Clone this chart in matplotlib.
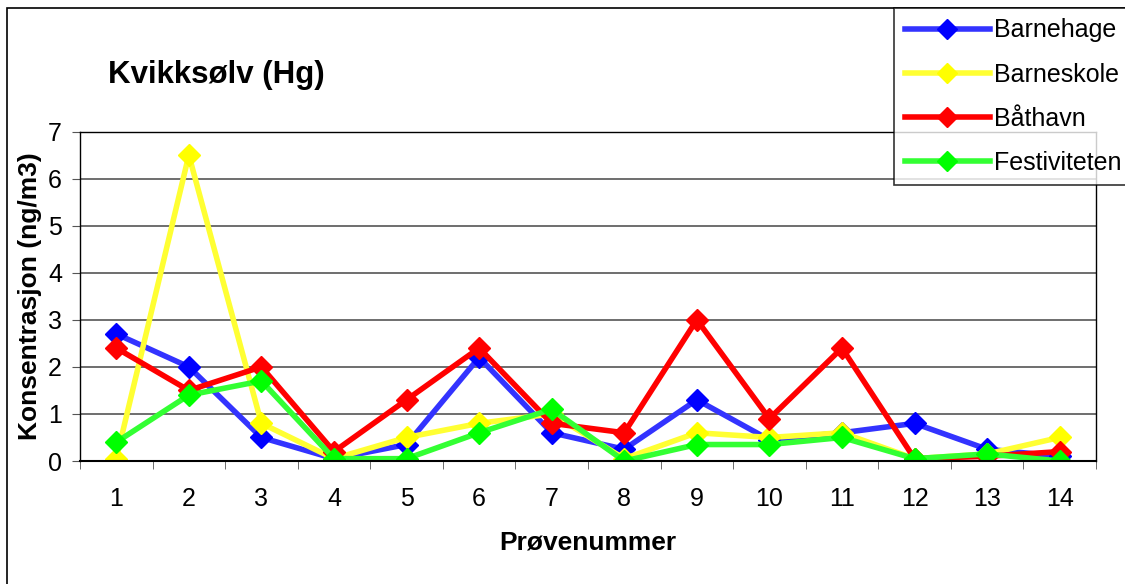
import matplotlib.pyplot as plt
from matplotlib.patches import Rectangle
from matplotlib.ticker import FixedLocator

plt.rcParams["font.family"] = ["Liberation Sans", "DejaVu Sans"]

samples = list(range(1, 15))
barnehage = [2.7, 2.0, 0.5, 0.05, 0.35, 2.2, 0.6, 0.25, 1.3, 0.45, 0.6, 0.8, 0.25, 0.1]
barneskole = [0.05, 6.5, 0.8, 0.05, 0.5, 0.8, 1.0, 0.05, 0.6, 0.5, 0.6, 0.05, 0.15, 0.5]
baathavn = [2.4, 1.5, 2.0, 0.2, 1.3, 2.4, 0.8, 0.6, 3.0, 0.9, 2.4, 0.05, 0.1, 0.2]
festiviteten = [0.4, 1.4, 1.7, 0.05, 0.05, 0.6, 1.1, 0.0, 0.35, 0.35, 0.5, 0.05, 0.15, 0.0]

series = [
    ("Barnehage", barnehage, "#0000ff", "#3333ff"),
    ("Barneskole", barneskole, "#ffff00", "#ffff33"),
    ("Båthavn", baathavn, "#ff0000", "#ff0000"),
    ("Festiviteten", festiviteten, "#00ff00", "#33ff33"),
]

fig = plt.figure(figsize=(11.25, 5.84), dpi=100)
ax = fig.add_axes([0.0711, 0.2106, 0.9031, 0.5642])

for name, values, mcolor, lcolor in series:
    ax.plot(samples, values, color=lcolor, lw=4, marker="D", markersize=11,
            markerfacecolor=mcolor, markeredgecolor=mcolor, label=name)

ax.set_xlim(0.5, 14.5)
ax.set_ylim(0, 7)
ax.set_yticks(range(0, 8))
ax.set_xticks(samples)
ax.xaxis.set_minor_locator(FixedLocator([i + 0.5 for i in range(0, 15)]))
ax.tick_params(axis="x", which="major", length=0, labelsize=18, pad=19)
ax.tick_params(axis="x", which="minor", length=6, direction="out", color="#555555")
ax.tick_params(axis="y", length=6, labelsize=18, pad=7, color="#555555")
ax.grid(axis="y", color="#555555", lw=1.2)
ax.set_axisbelow(True)
for side in ["top", "right", "left"]:
    ax.spines[side].set_color("black")
    ax.spines[side].set_linewidth(1.0)
ax.spines["bottom"].set_linewidth(1.5)

ax.set_xlabel("Prøvenummer", fontsize=19, fontweight="bold", labelpad=14)
ax.set_ylabel("Konsentrasjon (ng/m3)", fontsize=19, fontweight="bold", labelpad=4)
fig.text(0.096, 0.872, "Kvikksølv (Hg)", fontsize=22.5, fontweight="bold", va="center")

# outer chart frame (right and bottom edges fall outside the image)
frame_top = 1 - 8 / 584
fig.patches.append(Rectangle((7 / 1125, -0.05), 1.1, frame_top + 0.05,
                             transform=fig.transFigure, fill=False,
                             edgecolor="black", lw=1.2, clip_on=False))

leg = fig.legend(loc="upper left", bbox_to_anchor=(894 / 1125, frame_top), fontsize=18,
                 frameon=True, fancybox=False, edgecolor="black", handlelength=3.4,
                 borderpad=0.42, labelspacing=0.8, handletextpad=0.2, borderaxespad=0)
leg.get_frame().set_linewidth(1.2)
for h in leg.legend_handles:
    h.set_markersize(10)

fig.savefig("out.png", dpi=100)
